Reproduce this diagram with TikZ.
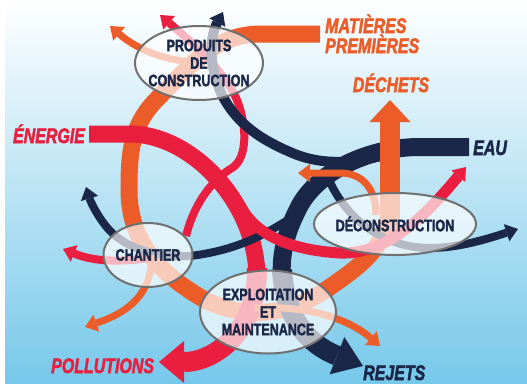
\documentclass[tikz,border=0pt]{standalone}
\usepackage{fontspec}
\setmainfont{Liberation Sans}[BoldFeatures={FakeBold=2.6},BoldItalicFeatures={FakeBold=2.6}]
\usetikzlibrary{arrows.meta,shapes.geometric}
\definecolor{flowora}{RGB}{236,92,40}
\definecolor{flowred}{RGB}{234,30,62}
\definecolor{flownavy}{RGB}{27,39,72}
\definecolor{rimgray}{RGB}{112,112,112}
\definecolor{skymid}{RGB}{190,230,246}
\definecolor{skylow}{RGB}{118,200,234}
\newcommand\cond[1]{\scalebox{0.76}[1]{#1}}
\tikzset{
	stage/.style={ellipse, draw=rimgray, line width=2pt, fill=white, fill opacity=0.68, inner sep=0pt},
	stagetext/.style={font=\fontsize{16.5}{17.5}\selectfont\bfseries, text=flownavy, align=center, inner sep=0pt},
	flowtext/.style={font=\fontsize{21}{21}\selectfont\bfseries\itshape, inner sep=0pt},
	tipsmall/.style={-{Triangle[length=12pt,width=18pt,line width=0pt]}},
}

\begin{document}
\begin{tikzpicture}[x=1pt,y=-1pt]
	%%%%% START %%%%%
	\def\wbig{17pt}
	\def\wmid{11pt}
	\def\wthin{8pt}

	\useasboundingbox (0,0) rectangle (527,383);
	\fill[white] (0,0) rectangle (527,383);
	\shade[top color=white, middle color=skymid, bottom color=skylow] (5,0) rectangle (527,383);

	% ends of the flows
	\coordinate (mpin) at (320,34);
	\coordinate (enin) at (89,134);
	\coordinate (eauin) at (469,147);
	\coordinate (tipdechets) at (390,100);
	\coordinate (tippoll) at (159,362);
	\coordinate (tiprejets) at (363,366);

	% orange loop
	\draw[flowora, line width=\wbig] (mpin) -- (262,34) .. controls (214,34) and (192,64) .. (158,98)
		.. controls (131,125) and (129,152) .. (129,190) .. controls (129,242) and (160,274) .. (205,300)
		.. controls (249,321) and (290,315) .. (330,287) .. controls (363,264) and (389,245) .. (389,205);

	% energy
	\draw[flowred, line width=\wbig] (enin) -- (130,134) .. controls (190,134) and (255,200) .. (257,275);
	\draw[flowred, line width=20pt, -{Triangle[length=25pt,width=42pt,line width=0pt]}] (257,268) .. controls (258,330) and (215,362) .. (tippoll);
	\draw[flowred, line width=\wthin, tipsmall] (186,236) .. controls (195,200) and (215,178) .. (232,168)
		.. controls (248,158) and (247,125) .. (237,100) .. controls (225,72) and (195,45) .. (160,15);
	\draw[flowred, line width=\wthin, tipsmall] (150,258) .. controls (120,262) and (95,262) .. (63,249);

	% water
	\draw[flownavy, line width=18pt] (eauin) -- (420,147) .. controls (370,147) and (320,170) .. (300,205)
		.. controls (288,228) and (280,250) .. (282,278);
	\draw[flownavy, line width=20pt, -{Triangle[length=28pt,width=40pt,line width=0pt]}] (282,270) .. controls (285,320) and (310,345) .. (tiprejets);
	\draw[flownavy, line width=10pt, tipsmall] (410,148) .. controls (370,160) and (330,170) .. (290,152)
		.. controls (255,137) and (235,120) .. (222,95) .. controls (210,70) and (208,40) .. (223,12);
	\draw[flownavy, line width=\wthin, tipsmall] (300,212) .. controls (270,232) and (240,250) .. (190,256)
		.. controls (150,258) and (120,245) .. (105,225) .. controls (95,212) and (90,200) .. (86,187);
	\draw[flownavy, line width=\wthin, tipsmall] (330,182) .. controls (345,215) and (380,248) .. (430,248)
		.. controls (460,248) and (490,238) .. (518,229);

	% energy on to deconstruction
	\draw[flowred, line width=\wmid, tipsmall] (240,205) .. controls (255,235) and (290,250) .. (340,253)
		.. controls (390,255) and (430,210) .. (466,167);

	% small orange outputs
	\draw[flowora, line width=7pt, tipsmall] (205,63) .. controls (170,62) and (140,52) .. (110,26);
	\draw[flowora, line width=7pt, tipsmall] (152,255) .. controls (152,300) and (120,315) .. (85,327);
	\draw[flowora, line width=7pt, tipsmall] (255,308) .. controls (310,305) and (350,320) .. (380,346);
	\draw[flowora, line width=7pt, tipsmall] (376,215) .. controls (376,188) and (362,173) .. (340,173) -- (298,173);
	\draw[flowora, line width=20pt, -{Triangle[length=22pt,width=41pt,line width=0pt]}] (390,230) -- (tipdechets);

	% stages
	\node[stage, minimum width=128pt, minimum height=74pt] (prod) at (199,63) {};
	\node[stage, minimum width=89pt, minimum height=64pt] (chantier) at (148,255) {};
	\node[stage, minimum width=136pt, minimum height=83pt] (exploit) at (268,312) {};
	\node[stage, minimum width=162pt, minimum height=62pt] (decon) at (395,224) {};

	\node[stagetext] (prodtxt) at (prod) {\cond{PRODUITS}\\\cond{DE}\\\cond{CONSTRUCTION}};
	\node[stagetext] (chantiertxt) at (chantier) {\cond{CHANTIER}};
	\node[stagetext] (exploittxt) at (exploit) {\cond{EXPLOITATION}\\\cond{ET}\\\cond{MAINTENANCE}};
	\node[stagetext] (decontxt) at (decon) {\cond{DÉCONSTRUCTION}};

	% flow names
	\node[flowtext, text=flowora, anchor=base west] (matieres) at (325,33) {\cond{MATIÈRES}};
	\node[flowtext, text=flowora, anchor=base west] (premieres) at (325,53) {\cond{PREMIÈRES}};
	\node[flowtext, text=flowora, anchor=base] (dechets) at (391,92) {\cond{DÉCHETS}};
	\node[flowtext, text=flownavy, anchor=base west] (eau) at (473,155) {\cond{EAU}};
	\node[flowtext, text=flowred, anchor=base] (energie) at (49,143) {\cond{ÉNERGIE}};
	\node[flowtext, text=flowred, anchor=base west] (pollutions) at (51,373) {\cond{POLLUTIONS}};
	\node[flowtext, text=flownavy, anchor=base west] (rejets) at (363,380) {\cond{REJETS}};
	%%%%% END %%%%%
\end{tikzpicture}
\end{document}
